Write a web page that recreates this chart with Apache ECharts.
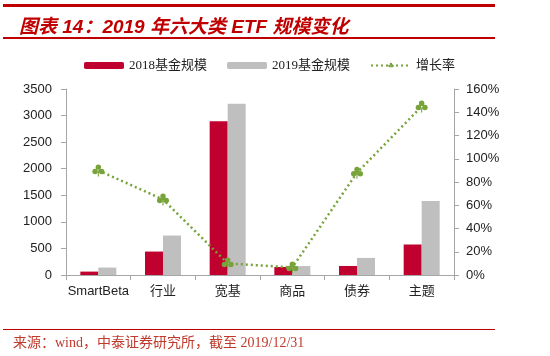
<!DOCTYPE html>
<html><head><meta charset="utf-8">
<script src="https://cdn.jsdelivr.net/npm/echarts@6/dist/echarts.min.js"></script>
<style>html,body{margin:0;padding:0;background:#fff}#c{width:550px;height:356px}</style>
</head><body><div id="c"></div>
<script>
const categories = ['SmartBeta', '行业', '宽基', '商品', '债券', '主题'];
const size2018 = [64, 441, 2894, 151, 170, 574];
const size2019 = [140, 743, 3221, 168, 321, 1391];
const growth = [0.90, 0.65, 0.10, 0.065, 0.88, 1.45];
const leftTicks = [0, 3500, 500];
const rightTicks = [0, 1.6, 0.2];

const clover = 'path://M12,1a5,5 0 1 1 0,10a5,5 0 1 1 0,-10z M6,9a5,5 0 1 1 0,10a5,5 0 1 1 0,-10z M18,9a5,5 0 1 1 0,10a5,5 0 1 1 0,-10z M11,14h2v9h-2z';

const chart = echarts.init(document.getElementById('c'));
chart.setOption({
  animation: false,
  title: {
    text: '图表 14：2019 年六大类 ETF 规模变化',
    left: 14, top: 13,
    textStyle: {color: '#c00000', fontSize: 19, fontWeight: 'bold', fontStyle: 'italic', fontFamily: 'Liberation Sans, Arial, Noto Sans CJK SC'}
  },
  graphic: [
    {type: 'rect', shape: {x: 3, y: 4, width: 492, height: 3}, style: {fill: '#c00000'}},
    {type: 'rect', shape: {x: 3, y: 37, width: 492, height: 2}, style: {fill: '#c00000'}},
    {type: 'rect', shape: {x: 3, y: 329, width: 492, height: 1}, style: {fill: '#c00000'}},
    {type: 'text', left: 13, top: 336, style: {text: '来源：wind，中泰证券研究所，截至 2019/12/31', fill: '#c0392b', font: '14px "Liberation Serif", "Noto Sans CJK SC"'}}
  ],
  legend: {
    left: 79, top: 54,
    itemGap: 20,
    textStyle: {fontSize: 13, color: '#222', fontFamily: 'Liberation Serif, Noto Sans CJK SC'},
    data: [
      {name: '2018基金规模', itemStyle: {color: '#c0002f'}},
      {name: '2019基金规模', itemStyle: {color: '#bfbfbf'}},
      {name: '增长率'}
    ],
    itemWidth: 40, itemHeight: 7
  },
  grid: {left: 66, right: 96, top: 89, bottom: 81},
  xAxis: {
    type: 'category', data: categories,
    axisLine: {lineStyle: {color: '#a6a6a6'}},
    axisTick: {show: true, length: 5, lineStyle: {color: '#a6a6a6'}},
    axisLabel: {interval: 0, color: '#222', fontSize: 13, margin: 10, fontFamily: 'Liberation Sans, Arial, Noto Sans CJK SC'}
  },
  yAxis: [
    {
      type: 'value', min: leftTicks[0], max: leftTicks[1], interval: leftTicks[2],
      axisLine: {show: true, lineStyle: {color: '#a6a6a6'}},
      axisTick: {show: true, length: 5, lineStyle: {color: '#a6a6a6'}},
      splitLine: {show: false},
      axisLabel: {color: '#222', fontSize: 13, margin: 14, fontFamily: 'Liberation Sans, Arial', formatter: v => String(v)}
    },
    {
      type: 'value', min: rightTicks[0], max: rightTicks[1], interval: rightTicks[2],
      axisLine: {show: true, lineStyle: {color: '#a6a6a6'}},
      axisTick: {show: true, length: 5, lineStyle: {color: '#a6a6a6'}},
      splitLine: {show: false},
      axisLabel: {color: '#222', fontSize: 13, margin: 12, fontFamily: 'Liberation Sans, Arial',
        formatter: v => Math.round(v * 100) + '%'}
    }
  ],
  series: [
    {name: '2018基金规模', type: 'bar', data: size2018, barWidth: 18, barGap: '0%', itemStyle: {color: '#c0002f'}},
    {name: '2019基金规模', type: 'bar', data: size2019, barWidth: 18, itemStyle: {color: '#bfbfbf'}},
    {name: '增长率', type: 'line', yAxisIndex: 1, data: growth,
      symbol: clover, symbolSize: 12, showSymbol: true,
      lineStyle: {color: '#77a33a', width: 2.5, type: [2, 3]},
      itemStyle: {color: '#77a33a'}}
  ]
});
</script>
</body></html>
